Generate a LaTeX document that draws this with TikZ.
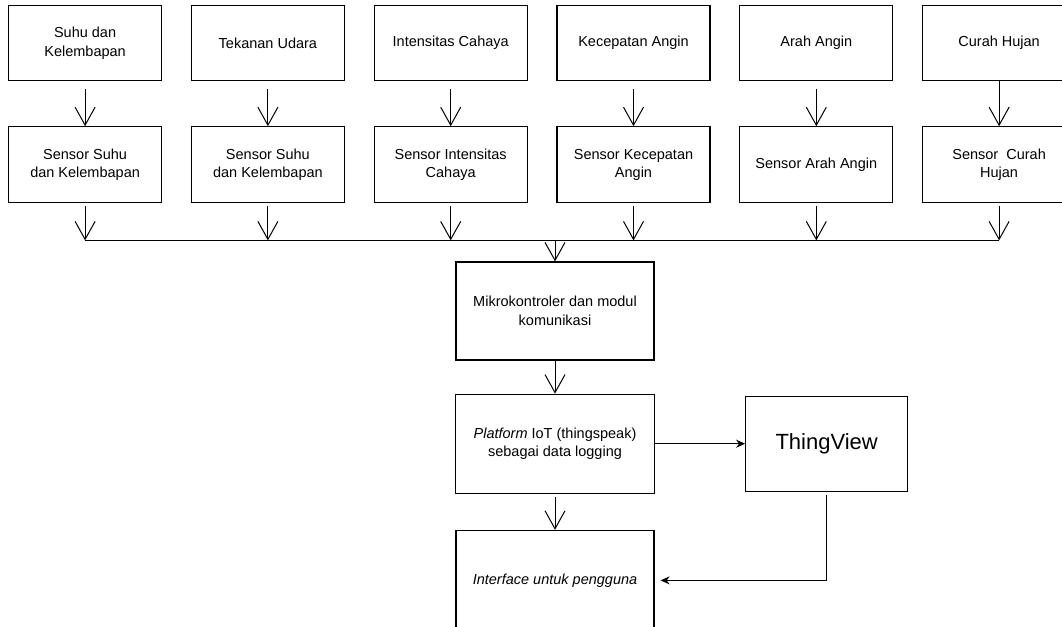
\documentclass[tikz,border=0pt]{standalone}
\usepackage{fontspec}
\setmainfont{Liberation Sans}
\usetikzlibrary{arrows.meta,positioning,calc}

\begin{document}
\begin{tikzpicture}[x=1pt,y=-1pt,
    node distance=28.6pt,
    box/.style={rectangle,draw,line width=1.2pt,align=center,minimum width=153pt,minimum height=75pt,inner sep=2pt,font=\fontsize{14.5}{18.5}\selectfont},
    flow/.style={line width=1pt,-{Straight Barb[length=18pt,width=20pt,line width=1pt]}},
    link/.style={line width=1pt,-{Stealth[length=9pt,width=8pt]}}]
    \useasboundingbox (0,0) rectangle (1062,626);
    \clip (0,0) rectangle (1062,626);
    % Besaran yang diukur
    \node[box,anchor=north west] (q1) at (8,5) {Suhu dan\\Kelembapan};
    \node[box,right=of q1] (q2) {Tekanan Udara};
    \node[box,right=of q2] (q3) {Intensitas Cahaya};
    \node[box,right=of q3] (q4) {Kecepatan Angin};
    \node[box,right=of q4] (q5) {Arah Angin};
    \node[box,right=of q5] (q6) {Curah Hujan};
    % Sensor
    \node[box,minimum height=76pt,below=45pt of q1] (s1) {Sensor Suhu\\dan Kelembapan};
    \node[box,minimum height=76pt,below=45pt of q2] (s2) {Sensor Suhu\\dan Kelembapan};
    \node[box,minimum height=76pt,below=45pt of q3] (s3) {Sensor Intensitas\\Cahaya};
    \node[box,minimum height=76pt,below=45pt of q4] (s4) {Sensor Kecepatan\\Angin};
    \node[box,minimum height=76pt,below=45pt of q5] (s5) {Sensor Arah Angin};
    \node[box,minimum height=76pt,below=45pt of q6] (s6) {Sensor~ Curah\\Hujan};
    \foreach \i in {1,...,5}
      \draw[flow,shorten <=8pt] (q\i) -- (s\i);
    \draw[flow] (q6) -- (s6);
    % Jalur data ke mikrokontroler
    \coordinate (bus) at ($(s1.south)+(0,37)$);
    \draw[line width=1pt] (bus) -- (s6.south |- bus);
    \foreach \i in {1,...,6}
      \draw[flow,shorten <=3pt] (s\i.south) -- (s\i.south |- bus);
    \node[box,minimum width=198pt,minimum height=98pt] (mcu) at (555,311) {Mikrokontroler dan modul\\komunikasi};
    \node[box,minimum width=199pt,minimum height=99pt,below=33pt of mcu] (plat) {\textit{Platform} IoT (thingspeak)\\sebagai data logging};
    \node[box,minimum width=162pt,minimum height=95pt,right=90pt of plat,font=\fontsize{22}{26}\selectfont] (tv) {ThingView};
    \node[box,minimum width=198pt,minimum height=100pt,below=36pt of plat] (ui) {\textit{Interface untuk pengguna}};
    \draw[flow] (mcu.north |- bus) -- (mcu.north);
    \draw[flow] (mcu) -- (plat);
    \draw[flow,shorten <=3pt] (plat) -- (ui);
    \draw[link] (plat) -- (tv);
    \draw[link,shorten <=3pt] (tv.south) |- ([xshift=6pt]ui.east);
  \end{tikzpicture}
\end{document}
